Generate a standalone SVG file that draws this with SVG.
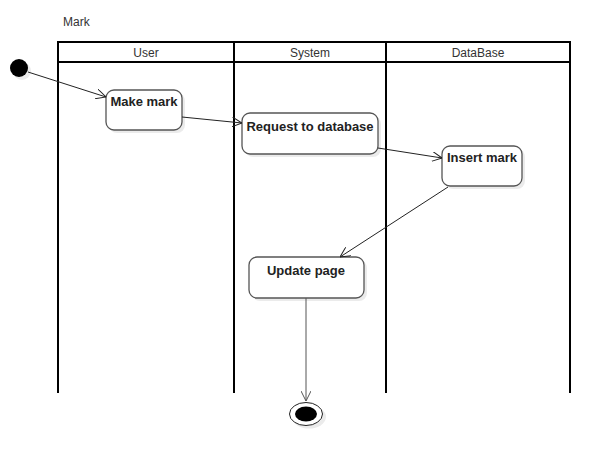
<svg xmlns="http://www.w3.org/2000/svg" width="610" height="467" viewBox="0 0 610 467">
<style>
.lane{fill:none;stroke:#000;stroke-width:2}
.hdr{font-family:"Liberation Sans",Arial,sans-serif;font-size:12px;fill:#333;text-anchor:middle}
.box{fill:#fff;stroke:#555;stroke-width:1.3}
.shadow{fill:#000;opacity:0.08}
.lbl{font-family:"Liberation Sans",Arial,sans-serif;font-size:13px;font-weight:bold;fill:#222;text-anchor:middle}
.conn{fill:none;stroke:#222;stroke-width:1}
</style>
<defs>
<marker id="arr" viewBox="0 0 10 10" refX="10" refY="5" markerWidth="10" markerHeight="10" markerUnits="userSpaceOnUse" orient="auto">
<path d="M0,0 L10,5 L0,10" fill="none" stroke="#222" stroke-width="1"/>
</marker>
<marker id="arr2" viewBox="0 0 10 10" refX="10" refY="5" markerWidth="10" markerHeight="10" markerUnits="userSpaceOnUse" orient="auto">
<path d="M0,0 L10,5 L0,10" fill="none" stroke="#555" stroke-width="1"/>
</marker>
</defs>
<rect width="610" height="467" fill="#fff"/>
<text x="63" y="26" font-family="Liberation Sans,Arial,sans-serif" font-size="12" fill="#333">Mark</text>
<g id="pool">
<path class="lane" d="M58,393 V42 H570 V393 M58,62 H570 M234,42 V393 M386,42 V393"/>
<text class="hdr" x="146" y="57">User</text>
<text class="hdr" x="310" y="57">System</text>
<text class="hdr" x="478" y="57">DataBase</text>
</g>
<g id="start">
<circle class="shadow" cx="22" cy="71" r="9"/>
<circle cx="19" cy="68" r="9" fill="#000"/>
</g>
<g id="make-mark">
<rect class="shadow" x="109" y="93" width="76" height="40" rx="8"/>
<rect class="box" x="106" y="90" width="76" height="40" rx="8"/>
<text class="lbl" x="144" y="106">Make mark</text>
</g>
<g id="request">
<rect class="shadow" x="245" y="116" width="136" height="41" rx="8"/>
<rect class="box" x="242" y="113" width="136" height="41" rx="8"/>
<text class="lbl" x="310" y="131">Request to database</text>
</g>
<g id="insert-mark">
<rect class="shadow" x="445" y="149" width="80" height="40" rx="8"/>
<rect class="box" x="442" y="146" width="80" height="40" rx="8"/>
<text class="lbl" x="482" y="162">Insert mark</text>
</g>
<g id="update-page">
<rect class="shadow" x="252" y="260" width="115" height="41" rx="8"/>
<rect class="box" x="249" y="257" width="115" height="41" rx="8"/>
<text class="lbl" x="306" y="275">Update page</text>
</g>
<g id="end">
<ellipse class="shadow" cx="309" cy="417" rx="17" ry="11.5"/>
<ellipse cx="306" cy="414" rx="16.5" ry="11.5" fill="#fff" stroke="#222" stroke-width="1"/>
<ellipse cx="306" cy="414" rx="11" ry="7.5" fill="#000"/>
</g>
<g id="connectors">
<path class="conn" d="M28,72 L106,97" marker-end="url(#arr)"/>
<path class="conn" d="M182,117 L242,123" marker-end="url(#arr)"/>
<path class="conn" d="M378,148 L442,158" marker-end="url(#arr)"/>
<path class="conn" d="M448,187 L340,257" marker-end="url(#arr)"/>
<path class="conn" d="M306,298 L306,401" marker-end="url(#arr2)" style="stroke:#555"/>
</g>
</svg>
